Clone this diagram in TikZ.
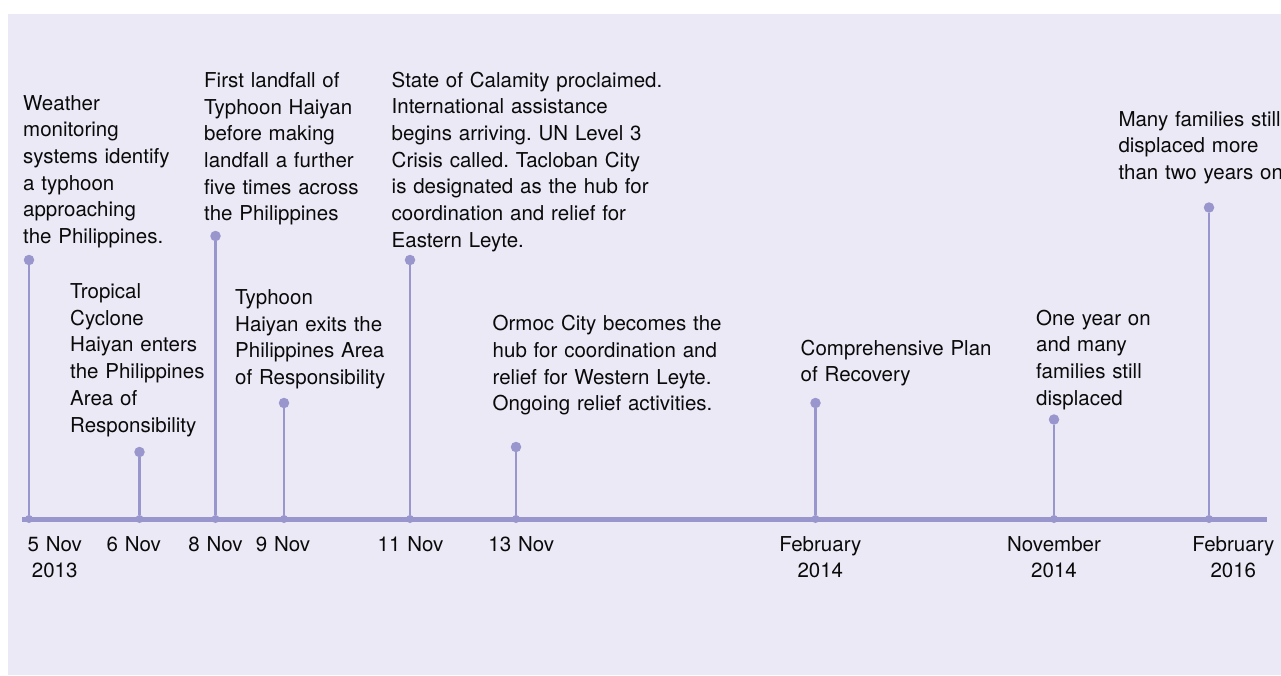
\documentclass[tikz,border=0pt]{standalone}
\usepackage{fontspec}
\setmainfont{TeX Gyre Heros}
\usetikzlibrary{positioning}
\frenchspacing

\definecolor{haze}{HTML}{EBE9F5}
\definecolor{stemline}{HTML}{9896CC}
\definecolor{ink}{HTML}{0A0A0A}

\begin{document}
\begin{tikzpicture}[x=1pt, y=-1pt,
    stem/.style={stemline, line width=2.8pt},
    topdot/.style={circle, fill=stemline, inner sep=0pt, minimum size=10.5pt},
    basedot/.style={circle, fill=stemline, inner sep=0pt, minimum size=8pt},
    event/.style={anchor=base west, align=left, text width=300pt, inner sep=0pt,
      text=ink, font=\fontsize{20.5}{26.7}\selectfont},
    date/.style={anchor=base, align=center, text width=140pt, inner sep=0pt,
      text=ink, font=\fontsize{20.5}{26.7}\selectfont}]

    % Page and panel
    \useasboundingbox (0,0) rectangle (1281,675);
    \fill[haze] (8,14) rectangle (1281,675);

    % Timeline axis
    \coordinate (axis-start) at (22,519);
    \coordinate (axis-end) at (1267,519);
    \draw[stemline, line width=5pt] (axis-start) -- (axis-end);

    % Stems with a dot at each end
    \foreach \x/\y/\n in {29/260/a, 139.5/452/b, 215.5/236/c, 284/403/d, 410/260/e,
                          516/447/f, 815.5/403/g, 1054/419.5/h, 1209/207.5/i} {
      \node[basedot] (base-\n) at (\x,519) {};
      \node[topdot] (top-\n) at (\x,\y) {};
      \draw[stem] (base-\n) -- (top-\n);
    }

    % Events
    \node[event] (ev-a) at (23,110) {Weather\\monitoring\\systems identify\\a typhoon\\approaching\\the Philippines.};
    \node[event] (ev-b) at (70,298.5) {Tropical\\Cyclone\\Haiyan enters\\the Philippines\\Area of\\Responsibility};
    \node[event] (ev-c) at (204,87.3) {First landfall of\\Typhoon Haiyan\\before making\\landfall a further\\five times across\\the Philippines};
    \node[event] (ev-d) at (235,304.3) {Typhoon\\Haiyan exits the\\Philippines Area\\of Responsibility};
    \node[event] (ev-e) at (391.5,87) {State of Calamity proclaimed.\\International assistance\\begins arriving. UN Level 3\\Crisis called. Tacloban City\\is designated as the hub for\\coordination and relief for\\Eastern Leyte.};
    \node[event] (ev-f) at (492.5,330.7) {Ormoc City becomes the\\hub for coordination and\\relief for Western Leyte.\\Ongoing relief activities.};
    \node[event] (ev-g) at (800.5,355) {Comprehensive Plan\\of Recovery};
    \node[event] (ev-h) at (1036,325) {One year on\\and many\\families still\\displaced};
    \node[event] (ev-i) at (1118.3,126) {Many families still\\displaced more\\than two years on};

    % Dates under the axis
    \node[date] (date-a) at (54.7,551) {5 Nov\\2013};
    \node[date] (date-b) at (133.8,551) {6 Nov};
    \node[date] (date-c) at (215.5,551) {8 Nov};
    \node[date] (date-d) at (283,551) {9 Nov};
    \node[date] (date-e) at (410.5,551) {11 Nov};
    \node[date] (date-f) at (521.3,551) {13 Nov};
    \node[date] (date-g) at (820.3,551) {February\\2014};
    \node[date] (date-h) at (1054,551) {November\\2014};
    \node[date] (date-i) at (1233.3,551) {February\\2016};
\end{tikzpicture}
\end{document}
